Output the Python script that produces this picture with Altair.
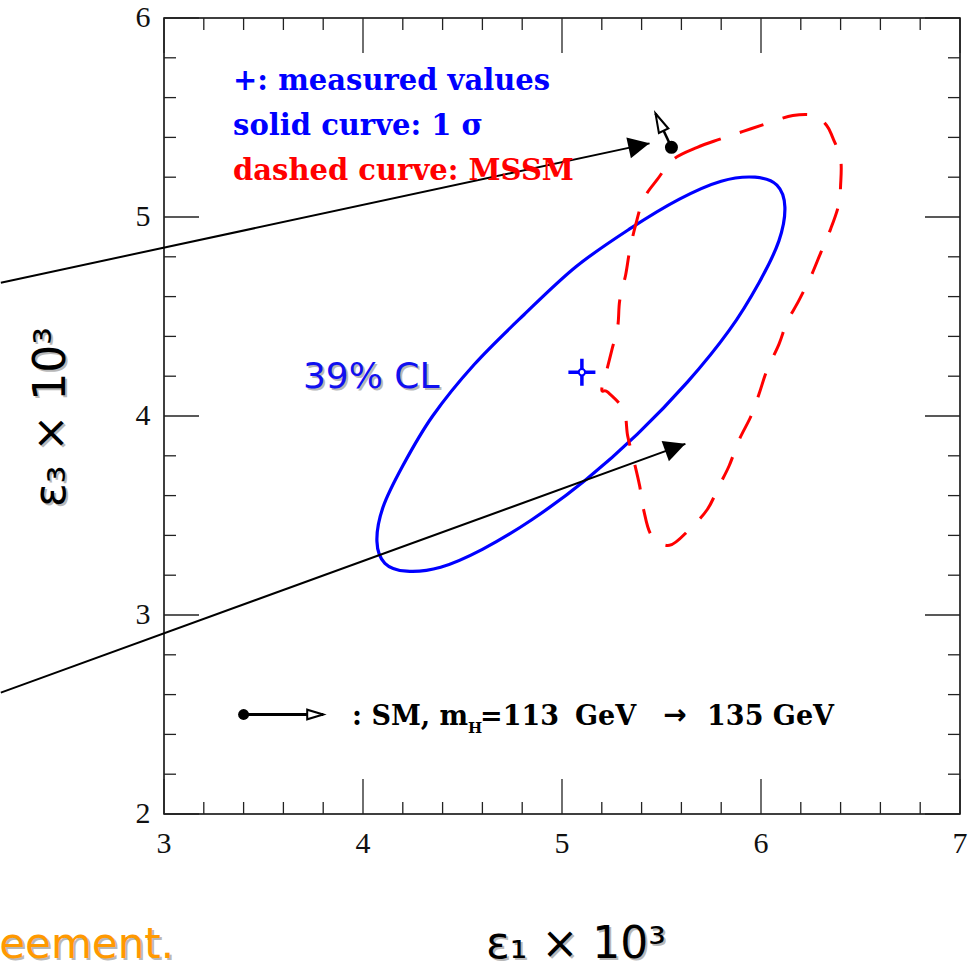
import math
import altair as alt
import pandas as pd

# ---- data (eps1 x 10^3, eps3 x 10^3) ----
# 1-sigma contour around the measured point
ellipse_e1 = [6.08, 5.97, 5.80, 5.59, 5.34, 5.07, 4.81, 4.56, 4.35, 4.20, 4.10, 4.07,
              4.11, 4.22, 4.39, 4.60, 4.85, 5.12, 5.38, 5.63, 5.84, 5.99, 6.09, 6.12]
ellipse_e3 = [5.16, 5.20, 5.18, 5.09, 4.94, 4.75, 4.51, 4.26, 4.00, 3.75, 3.54, 3.37,
              3.26, 3.22, 3.24, 3.33, 3.48, 3.68, 3.91, 4.17, 4.43, 4.67, 4.88, 5.05]

# MSSM region boundary
mssm_e1 = [5.56, 5.68, 5.79, 5.91, 6.03, 6.16, 6.27, 6.33, 6.36, 6.40, 6.40, 6.39,
           6.35, 6.30, 6.25, 6.19, 6.13, 6.09, 6.03, 5.99, 5.95, 5.89, 5.84, 5.79,
           5.73, 5.64, 5.54, 5.45, 5.41, 5.39, 5.36, 5.33, 5.31, 5.23, 5.20, 5.22,
           5.25, 5.28, 5.29, 5.32, 5.34, 5.37, 5.41, 5.48]
mssm_e3 = [5.29, 5.35, 5.39, 5.43, 5.47, 5.51, 5.51, 5.46, 5.40, 5.29, 5.16, 5.06,
           4.94, 4.82, 4.70, 4.58, 4.47, 4.36, 4.23, 4.11, 4.00, 3.88, 3.75, 3.65,
           3.53, 3.43, 3.35, 3.40, 3.53, 3.65, 3.78, 3.90, 4.03, 4.12, 4.13, 4.21,
           4.33, 4.45, 4.58, 4.71, 4.83, 4.96, 5.09, 5.19]

measured_e1 = [5.10]
measured_e3 = [4.22]

# SM prediction: m_H = 113 GeV (dot) -> 135 GeV (arrow tip)
sm_e1 = [5.55, 5.47]
sm_e3 = [5.35, 5.52]

# pointer arrows coming in from the left
ptr_start_e1 = [2.18, 2.18]
ptr_start_e3 = [4.67, 2.61]
ptr_tip_e1 = [5.44, 5.62]
ptr_tip_e3 = [5.37, 3.86]

# key symbol for the SM arrow
key_e1 = [3.40, 3.80]
key_e3 = [2.50, 2.50]

x_major = [3, 4, 5, 6, 7]
y_major = [2, 3, 4, 5, 6]
x_minor = [3.2, 3.4, 3.6, 3.8, 4.2, 4.4, 4.6, 4.8, 5.2, 5.4, 5.6, 5.8, 6.2, 6.4, 6.6, 6.8]
y_minor = [2.2, 2.4, 2.6, 2.8, 3.2, 3.4, 3.6, 3.8, 4.2, 4.4, 4.6, 4.8, 5.2, 5.4, 5.6, 5.8]

# ---- layout ----
W = H = 796
BLUE = "#0000ff"
RED = "#ff0000"
SHADOW = "#b8b8b8"

xs = alt.Scale(domain=[3, 7], nice=False, zero=False)
ys = alt.Scale(domain=[2, 6], nice=False, zero=False)


def X(f):
    return alt.X(f, type="quantitative", scale=xs, axis=None)


def Y(f):
    return alt.Y(f, type="quantitative", scale=ys, axis=None)


def heading(x0, y0, x1, y1):
    # screen angle (clockwise degrees) of a segment; both scales use the same px per unit
    return math.degrees(math.atan2(-(y1 - y0), x1 - x0)) % 360


TICK = dict(color="#222", strokeWidth=1.3)
LABEL = dict(font="Liberation Serif", fontSize=30, color="#111", align="center", baseline="middle")


def xticks(vals, length):
    df = pd.DataFrame({"v": vals})
    return [
        alt.Chart(df).mark_rule(**TICK).encode(x=X("v"), y=alt.value(H), y2=alt.value(H - length)),
        alt.Chart(df).mark_rule(**TICK).encode(x=X("v"), y=alt.value(0), y2=alt.value(length)),
    ]


def yticks(vals, length):
    df = pd.DataFrame({"v": vals})
    return [
        alt.Chart(df).mark_rule(**TICK).encode(y=Y("v"), x=alt.value(0), x2=alt.value(length)),
        alt.Chart(df).mark_rule(**TICK).encode(y=Y("v"), x=alt.value(W), x2=alt.value(W - length)),
    ]


layers = []
layers += xticks(x_major, 35) + xticks(x_minor, 12)
layers += yticks(y_major, 35) + yticks(y_minor, 12)

# tick labels
layers.append(alt.Chart(pd.DataFrame({"v": x_major})).mark_text(**LABEL).encode(
    x=X("v"), y=alt.value(H + 30), text=alt.Text("v:Q", format="d")))
layers.append(alt.Chart(pd.DataFrame({"v": y_major})).mark_text(**LABEL).encode(
    y=Y("v"), x=alt.value(-21), text=alt.Text("v:Q", format="d")))

# 1-sigma ellipse
ell = pd.DataFrame({"e1": ellipse_e1, "e3": ellipse_e3, "i": range(len(ellipse_e1))})
layers.append(alt.Chart(ell).mark_line(color=BLUE, strokeWidth=3.2, interpolate="cardinal-closed").encode(
    x=X("e1"), y=Y("e3"), order="i:Q"))

# MSSM region, dashed
mssm = pd.DataFrame({"e1": mssm_e1, "e3": mssm_e3, "i": range(len(mssm_e1))})
layers.append(alt.Chart(mssm).mark_line(color=RED, strokeWidth=3, strokeDash=[25, 20],
                                        interpolate="cardinal-closed").encode(
    x=X("e1"), y=Y("e3"), order="i:Q"))

# measured value marker
meas = pd.DataFrame({"e1": measured_e1, "e3": measured_e3})
layers.append(alt.Chart(meas).mark_point(shape="M-1,0L1,0M0,-1L0,1", size=729, filled=False,
                                         color=BLUE, strokeWidth=3.5, opacity=1).encode(
    x=X("e1"), y=Y("e3")))
layers.append(alt.Chart(meas).mark_point(shape="circle", size=40, filled=True, fill="white",
                                         stroke=BLUE, strokeWidth=2, opacity=1).encode(
    x=X("e1"), y=Y("e3")))

# pointer arrows
ptr = pd.DataFrame({"x0": ptr_start_e1, "y0": ptr_start_e3, "x1": ptr_tip_e1, "y1": ptr_tip_e3})
ptr["ang"] = [heading(a, b, c, d) for a, b, c, d in zip(ptr.x0, ptr.y0, ptr.x1, ptr.y1)]
layers.append(alt.Chart(ptr).mark_rule(color="black", strokeWidth=2).encode(
    x=X("x0"), y=Y("y0"), x2="x1", y2="y1"))
layers.append(alt.Chart(ptr).mark_point(shape="M0,0L-2,-1L-2,1Z", size=458, filled=True,
                                        color="black", opacity=1).encode(
    x=X("x1"), y=Y("y1"), angle=alt.Angle("ang:Q", scale=None)))


# SM arrows (in the plot and in the key)
def sm_arrow(e1, e3, dot_size, head_size, head_shape, width):
    seg = pd.DataFrame({"x0": [e1[0]], "y0": [e3[0]], "x1": [e1[1]], "y1": [e3[1]],
                        "ang": [heading(e1[0], e3[0], e1[1], e3[1])]})
    return [
        alt.Chart(seg).mark_rule(color="black", strokeWidth=width).encode(
            x=X("x0"), y=Y("y0"), x2="x1", y2="y1"),
        alt.Chart(seg).mark_point(shape=head_shape, size=head_size, filled=True, fill="white",
                                  stroke="black", strokeWidth=2, opacity=1).encode(
            x=X("x1"), y=Y("y1"), angle=alt.Angle("ang:Q", scale=None)),
        alt.Chart(seg).mark_circle(size=dot_size, color="black", opacity=1).encode(
            x=X("x0"), y=Y("y0")),
    ]


layers += sm_arrow(sm_e1, sm_e3, 170, 361, "M0,0L-2,-0.55L-2,0.55Z", 2.5)
layers += sm_arrow(key_e1, key_e3, 120, 256, "M0,0L-2,-0.6L-2,0.6Z", 3)


# ---- text ----
def text_layer(df, shadow=False, **kw):
    enc = dict(x=X("x"), y=Y("y"), text="t:N")
    out = []
    if shadow:
        sk = dict(kw)
        sk["color"] = SHADOW
        out.append(alt.Chart(df).mark_text(dx=2, dy=2, **sk).encode(**enc))
    out.append(alt.Chart(df).mark_text(**kw).encode(**enc))
    return out


key_lines = pd.DataFrame({"x": [3.347] * 3, "y": [5.638, 5.412, 5.186],
                          "t": ["+: measured values", "solid curve: 1 σ", "dashed curve: MSSM"],
                          "c": [BLUE, BLUE, RED]})
layers.append(alt.Chart(key_lines).mark_text(font="DejaVu Serif", fontWeight="bold", fontSize=29,
                                             align="left", baseline="alphabetic").encode(
    x=X("x"), y=Y("y"), text="t:N", color=alt.Color("c:N", scale=None)))

# key caption ": SM, m_H=113 GeV -> 135 GeV", set piece by piece
KEY = dict(font="DejaVu Serif", fontWeight="bold", fontSize=27, align="left",
           baseline="alphabetic", color="black")
key_words = pd.DataFrame({"x": [3.945, 4.588, 5.065, 5.729], "y": [2.447] * 4,
                          "t": [": SM, m", "=113", "GeV", "135 GeV"]})
layers += text_layer(key_words, **KEY)
key_sub = pd.DataFrame({"x": [4.528], "y": [2.405], "t": ["H"]})
layers += text_layer(key_sub, **dict(KEY, fontSize=15))
key_arrow = pd.DataFrame({"x": [5.568], "y": [2.452], "t": ["→"]})
layers += text_layer(key_arrow, **dict(KEY, font="DejaVu Sans", fontSize=28, align="center"))

cl = pd.DataFrame({"x": [3.698], "y": [4.141], "t": ["39% CL"]})
layers += text_layer(cl, shadow=True, font="DejaVu Sans", fontSize=36, align="left",
                     baseline="alphabetic", color="#1010f0")

xtitle = pd.DataFrame({"x": [5.07], "y": [1.276], "t": ["ε₁ × 10³"]})
layers += text_layer(xtitle, shadow=True, font="DejaVu Sans", fontSize=44, align="center",
                     baseline="alphabetic", color="black")

ytitle = pd.DataFrame({"x": [2.437], "y": [3.995], "t": ["ε₃ × 10³"]})
YT = dict(font="DejaVu Sans", fontSize=44, angle=270, align="center", baseline="middle")
layers.append(alt.Chart(ytitle).mark_text(color=SHADOW, dx=-2, dy=2, **YT).encode(
    x=X("x"), y=Y("y"), text="t:N"))
layers.append(alt.Chart(ytitle).mark_text(color="black", **YT).encode(
    x=X("x"), y=Y("y"), text="t:N"))

side = pd.DataFrame({"x": [2.172], "y": [1.276], "t": ["eement."]})
layers += text_layer(side, shadow=True, font="DejaVu Sans", fontSize=42, align="left",
                     baseline="alphabetic", color="#ff9900")

chart = alt.layer(*layers).properties(
    width=W, height=H,
    autosize=alt.AutoSizeParams(type="none"),
    padding={"left": 164, "top": 18, "right": 13, "bottom": 158},
    background="white",
).configure_view(stroke="#000", strokeWidth=1.5)

chart.save("out.html", embed_options={"renderer": "svg", "actions": False})
